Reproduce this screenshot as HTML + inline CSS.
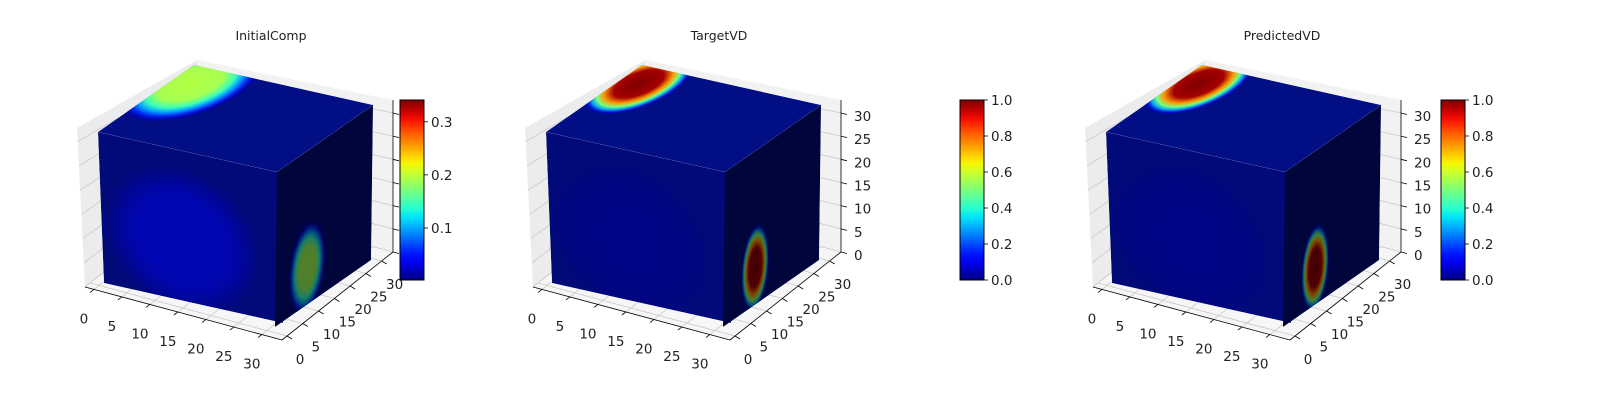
<!DOCTYPE html>
<html><head><meta charset="utf-8">
<style>
html,body{margin:0;padding:0;background:#fff;}
svg{display:block;font-family:"DejaVu Sans","Liberation Sans",sans-serif;}
</style></head>
<body>
<svg id="fig" width="1600" height="400" viewBox="0 0 1600 400" xmlns="http://www.w3.org/2000/svg">
<rect width="1600" height="400" fill="#fff"/>
<defs id="defs"></defs>
</svg>
<script>
// ---- data ----
const titles = ["InitialComp", "TargetVD", "PredictedVD"];
const vmin = [0.002, 0.0, 0.0];
const vmax = [0.341, 1.0, 1.0];
const cbTicks0 = [0.1, 0.2, 0.3];
const cbTicks1 = [0.0, 0.2, 0.4, 0.6, 0.8, 1.0];
const cbTicks2 = [0.0, 0.2, 0.4, 0.6, 0.8, 1.0];
const xTicks = [0, 5, 10, 15, 20, 25, 30];
const yTicks = [0, 5, 10, 15, 20, 25, 30];
const zTicks = [0, 5, 10, 15, 20, 25, 30];
const topPeak = [0.195, 1.0, 1.0];
const rightPeak = [0.19, 1.0, 1.0];
const frontPeak = [0.045, 0.02, 0.02];
const showZLabels = [false, true, true];

// ---- layout ----
const NS = "http://www.w3.org/2000/svg";
const svg = document.getElementById("fig");
const defs = document.getElementById("defs");
const panelOX = [0, 448, 1008];
const cbX = [400, 960, 1441];
const titleX = [271, 719, 1282];
const axRange = [-1.6, 33.6];
const zRange = [0, 32.8];
const FS = 13.5;

function mk(tag, attrs, parent) {
  const e = document.createElementNS(NS, tag);
  for (const k in attrs) e.setAttribute(k, attrs[k]);
  (parent || svg).appendChild(e);
  return e;
}
function jet(t) {
  t = Math.max(0, Math.min(1, t));
  function seg(pts) {
    for (let i = 1; i < pts.length; i++) {
      if (t <= pts[i][0]) {
        const a = pts[i - 1], b = pts[i];
        return a[1] + (b[1] - a[1]) * (t - a[0]) / (b[0] - a[0]);
      }
    }
    return pts[pts.length - 1][1];
  }
  const r = seg([[0, 0], [0.35, 0], [0.66, 1], [0.89, 1], [1, 0.5]]);
  const g = seg([[0, 0], [0.125, 0], [0.375, 1], [0.64, 1], [0.91, 0], [1, 0]]);
  const b = seg([[0, 0.5], [0.11, 1], [0.34, 1], [0.65, 0], [1, 0]]);
  return "rgb(" + Math.round(r * 255) + "," + Math.round(g * 255) + "," + Math.round(b * 255) + ")";
}
function lerp(a, b, f) { return [a[0] + (b[0] - a[0]) * f, a[1] + (b[1] - a[1]) * f]; }
function fx(v) { return (v - axRange[0]) / (axRange[1] - axRange[0]); }
function fz(v) { return (v - zRange[0]) / (zRange[1] - zRange[0]); }

function blobGrad(id, n) {
  const g = mk("radialGradient", { id: id, cx: 0.5, cy: 0.5, r: 0.5 }, defs);
  const st = [[0, n, 1], [0.45, n * 0.97, 1], [0.62, n * 0.75, 1], [0.74, n * 0.5, 1], [0.84, n * 0.3, 0.9], [0.93, n * 0.12, 0.5], [1, 0.02, 0]];
  st.forEach(s => mk("stop", { offset: s[0], "stop-color": jet(s[1]), "stop-opacity": s[2] }, g));
}

for (let p = 0; p < 3; p++) {
  const ox = panelOX[p];
  const P = (x, y) => [x + ox, y];
  const gp = mk("g", {});
  
  

  const tt = mk("text", { x: titleX[p], y: 40, "font-size": 12.5, "text-anchor": "middle", fill: "#222" }, gp);
  tt.textContent = titles[p];
  
  

  const FLB = P(85, 287), FRB = P(282, 340), BRB = P(393, 252), BLB = P(196, 199);
  const FLT = P(77, 128), BLT = P(197, 60), BRT = P(393, 100);
  const poly = (pts, fill, name) => {
    const e = mk("polygon", { points: pts.map(q => q.join(",")).join(" "), fill: fill }, gp);
    
    
    return e;
  };
  poly([FLB, FLT, BLT, BLB], "#ececec", "left-pane");
  poly([BLB, BLT, BRT, BRB], "#f2f2f2", "back-pane");
  poly([FLB, BLB, BRB, FRB], "#f6f6f6", "floor-pane");
  const line = (a, b, col, w) => mk("line", { x1: a[0], y1: a[1], x2: b[0], y2: b[1], stroke: col, "stroke-width": w }, gp);

  zTicks.forEach(z => {
    const f = fz(z);
    const a = lerp(FLB, FLT, f), b = lerp(BLB, BLT, f), c = lerp(BRB, BRT, f);
    line(a, b, "#c8c8c8", 0.8); line(b, c, "#c8c8c8", 0.8);
    const tk = [c[0] + 6, c[1] + 1.5];
    line(c, tk, "#000", 0.8);
    if (showZLabels[p]) {
      const t = mk("text", { x: 406 + ox, y: c[1] + 8, "font-size": FS, fill: "#222" }, gp);
      t.textContent = z;
      
      
    }
  });
  xTicks.forEach(x => {
    const f = fx(x);
    const a = lerp(FLB, FRB, f), b = lerp(BLB, BRB, f);
    line(a, b, "#c8c8c8", 0.8);
    line(a, [a[0] - 4, a[1] + 3], "#000", 0.8);
    const t = mk("text", { x: a[0] - 10, y: a[1] + 34, "font-size": FS, "text-anchor": "middle", fill: "#222" }, gp);
    t.textContent = x;
    
    
  });
  yTicks.forEach(y => {
    const f = fx(y);
    const a = lerp(FRB, BRB, f), b = lerp(FLB, BLB, f);
    line(a, b, "#c8c8c8", 0.8);
    line(a, [a[0] + 5, a[1] + 3], "#000", 0.8);
    const t = mk("text", { x: a[0] + 13, y: a[1] + 28, "font-size": FS, "text-anchor": "middle", fill: "#222" }, gp);
    t.textContent = y;
    
    
  });
  line(FLB, FRB, "#000", 0.8); line(FRB, BRB, "#000", 0.8); line(BRB, BRT, "#000", 0.8);

  const A = P(98, 132), C = P(277, 172), B = P(104, 283), D = P(275, 327), E = P(373, 105);
  const G = [A[0] + E[0] - C[0], A[1] + E[1] - C[1]];
  const faces = [
    { name: "front-face", o: A, u: [C[0] - A[0], C[1] - A[1]], v: [B[0] - A[0], B[1] - A[1]], base: "#010a78", shade: 0 },
    { name: "right-face", o: C, u: [E[0] - C[0], E[1] - C[1]], v: [D[0] - C[0], D[1] - C[1]], base: "#010a78", shade: 0.5 },
    { name: "top-face", o: G, u: [C[0] - A[0], C[1] - A[1]], v: [A[0] - G[0], A[1] - G[1]], base: "#020e84", shade: 0 }
  ];
  const n = v => (v - vmin[p]) / (vmax[p] - vmin[p]);
  blobGrad("gt" + p, n(topPeak[p]));
  blobGrad("gr" + p, n(rightPeak[p]));
  blobGrad("gf" + p, n(frontPeak[p]));
  const cp = mk("clipPath", { id: "cu" + p }, defs);
  mk("rect", { x: 0, y: 0, width: 1, height: 1 }, cp);

  faces.forEach((fc, i) => {
    const g = mk("g", { transform: "matrix(" + [fc.u[0], fc.u[1], fc.v[0], fc.v[1], fc.o[0], fc.o[1]].join(",") + ")", "clip-path": "url(#cu" + p + ")" }, gp);
    
    
    mk("rect", { x: 0, y: 0, width: 1, height: 1, fill: fc.base }, g);
    if (i === 0) {
      const e = mk("ellipse", { cx: 0.45, cy: 0.6, rx: 0.45, ry: 0.5, fill: "url(#gf" + p + ")", opacity: 0.45 }, g);
      
      
    }
    if (i === 1) {
      const rs = p === 0 ? 0.2 : 0.15, rt = p === 0 ? 0.3 : 0.28;
      const e = mk("ellipse", { cx: 0.33, cy: 0.76, rx: rs, ry: rt, fill: "url(#gr" + p + ")" }, g);
      
      
    }
    if (i === 2) {
      const ru = p === 0 ? 0.28 : 0.2, rw = p === 0 ? 0.55 : 0.45;
      const e = mk("ellipse", { cx: 0.1, cy: 0.22, rx: ru, ry: rw, fill: "url(#gt" + p + ")" }, g);
      
      
    }
    if (fc.shade > 0) mk("rect", { x: 0, y: 0, width: 1, height: 1, fill: "#000", opacity: fc.shade }, g);
  });

  const gid = "jet" + p;
  const lg = mk("linearGradient", { id: gid, x1: 0, y1: 1, x2: 0, y2: 0 }, defs);
  for (let k = 0; k <= 20; k++) mk("stop", { offset: k / 20, "stop-color": jet(k / 20) }, lg);
  const cx = cbX[p], cyT = 100, cyB = 280;
  const cb = mk("rect", { x: cx, y: cyT, width: 24, height: cyB - cyT, fill: "url(#" + gid + ")", stroke: "#000", "stroke-width": 1 });
  
  
  const ticks = [cbTicks0, cbTicks1, cbTicks2][p];
  ticks.forEach(v => {
    const y = cyB - (v - vmin[p]) / (vmax[p] - vmin[p]) * (cyB - cyT);
    mk("line", { x1: cx + 24, y1: y, x2: cx + 28, y2: y, stroke: "#000", "stroke-width": 0.8 });
    const t = mk("text", { x: cx + 31, y: y + 5, "font-size": FS, fill: "#222" });
    t.textContent = v.toFixed(1);
    
    
  });
}
</script>
</body></html>
